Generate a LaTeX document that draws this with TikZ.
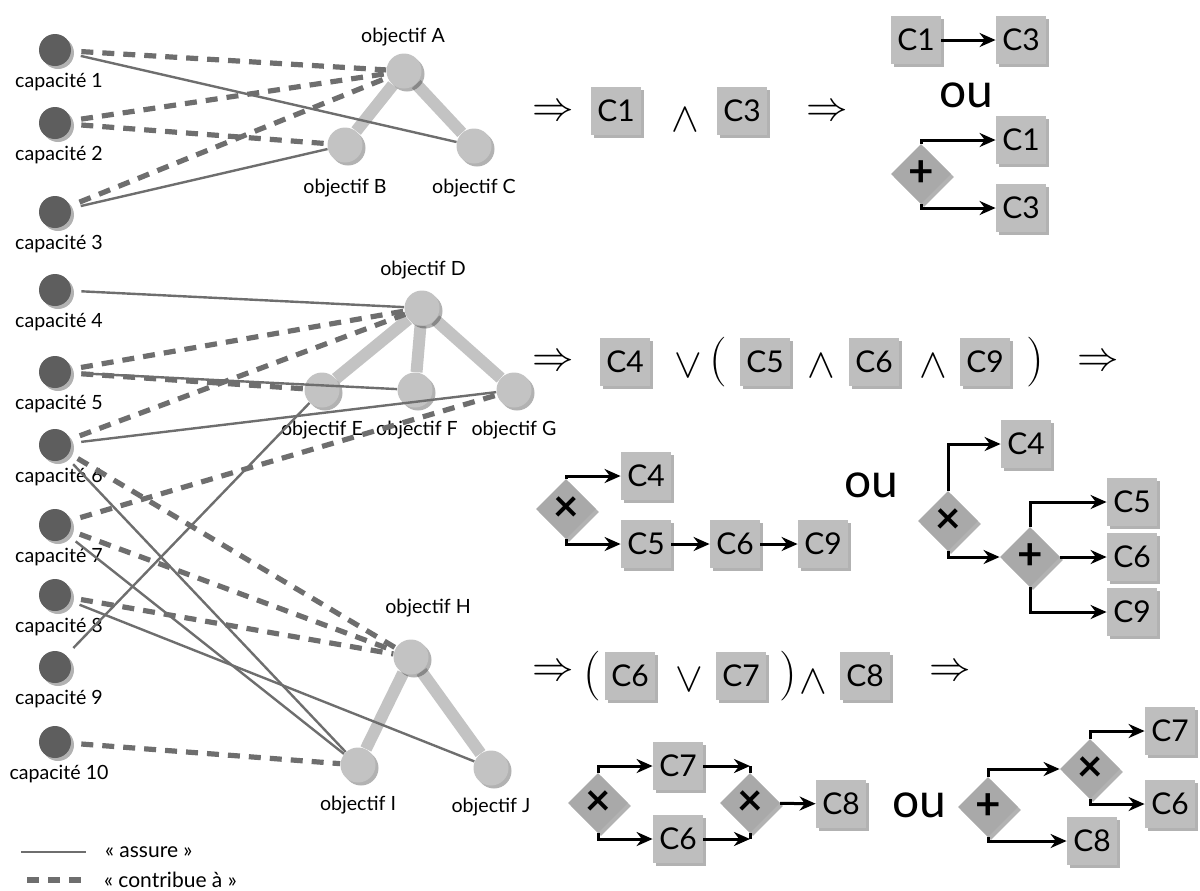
\documentclass[tikz,border=0pt]{standalone}
\usepackage{fontspec}
\setmainfont{Lato}
\usetikzlibrary{shapes.geometric,arrows.meta,shadows,backgrounds}
\definecolor{capgray}{HTML}{5E5E5E}
\definecolor{objgray}{HTML}{C3C3C3}
\definecolor{lnkgray}{HTML}{6E6E6E}
\definecolor{boxgray}{HTML}{BEBEBE}
\definecolor{gategray}{HTML}{A9A9A9}
\begin{document}
\begin{tikzpicture}[x=0.5pt, y=-0.5pt, >={Stealth[length=8pt,width=7pt]},
  shad/.style={drop shadow={shadow xshift=1.5pt, shadow yshift=-1.5pt, opacity=0.3, fill=black}},
  capa/.style={circle, fill=capgray, minimum size=16pt, inner sep=0pt, shad},
  obj/.style={circle, fill=objgray, minimum size=17.5pt, inner sep=0pt, shad},
  lab/.style={font=\fontsize{9.8}{11}\selectfont},
  tree/.style={objgray, line width=6pt},
  assure/.style={lnkgray, line width=1.2pt, shorten <=5pt},
  contrib/.style={lnkgray, line width=2.6pt, dash pattern=on 6pt off 4.5pt, shorten <=5pt},
  cbox/.style={fill=boxgray, minimum width=25pt, minimum height=24pt, inner sep=0pt, font=\fontsize{15}{16}\selectfont, shad},
  gate/.style={diamond, fill=gategray, minimum width=30pt, minimum height=30pt, inner sep=0pt, font=\fontsize{22}{22}\selectfont\bfseries, shad},
  sym/.style={font=\fontsize{21}{21}\selectfont},
  op/.style={font=\fontsize{20}{20}\selectfont},
  par/.style={font=\fontsize{26}{26}\selectfont},
  ou/.style={font=\fontsize{24}{24}\selectfont},
  flow/.style={->, line width=1.5pt}]
\useasboundingbox (0,0) rectangle (1200,890);
\foreach \i/\y in {1/50,2/123,3/212,4/290,5/372,6/445,7/525,8/595,9/667,10/742} {
  \node[capa] (c\i) at (55,\y) {};
  \node[lab] (lc\i) at (59,\y+32) {capacité \i};
}
\foreach \n/\x/\y/\lx/\ly in {A/404/71/403/37, B/345/145/345/188, C/474/146/474/188,
  D/422/308/423/270, E/322/390/322/430, F/415/390/417/430, G/514/390/514/430,
  H/411/657/428/608, I/358/765/358/805, J/491/768/491/807} {
  \node[obj] (o\n) at (\x,\y) {};
  \node[lab] (l\n) at (\lx,\ly) {objectif \n};
}
\begin{scope}[on background layer]
\foreach \a/\b in {A/B,A/C,D/E,D/F,D/G,H/I,H/J} \draw[tree] (o\a) -- (o\b);
\end{scope}
\foreach \c/\o in {1/C,3/B,4/D,5/F,6/G,6/I,7/I,8/J,9/E} \draw[assure] (c\c) -- (o\o);
\foreach \c/\o in {1/A,2/A,2/B,3/A,5/D,5/E,6/D,6/H,7/G,7/H,8/H,10/I} \draw[contrib] (c\c) -- (o\o);
\coordinate (ka) at (21,852); \coordinate (kb) at (86,852);
\coordinate (kc) at (27,880); \coordinate (kd) at (86,880);
\draw[assure, shorten <=0pt] (ka) -- (kb);
\draw[contrib, shorten <=0pt] (kc) -- (kd);
\node[lab, anchor=west, font=\fontsize{10.5}{12}\selectfont] (k1) at (98,852) {« assure »};
\node[lab, anchor=west, font=\fontsize{10.5}{12}\selectfont] (k2) at (97,880) {« contribue à »};
\node[sym] (r1i) at (553,113) {$\Rightarrow$};
\node[cbox] (r1c1) at (616,111) {C1};
\node[op] (r1et) at (685,120) {$\wedge$};
\node[cbox] (r1c3) at (742,111) {C3};
\node[sym] (r1ii) at (827,113) {$\Rightarrow$};
\node[cbox] (s1c1) at (916,40) {C1};
\node[cbox] (s1c3) at (1021,40) {C3};
\draw[flow] (s1c1) -- (s1c3);
\node[ou] (s1ou) at (966,95) {ou};
\node[gate] (s1g) at (921,174) {+};
\node[cbox] (s1d1) at (1021,140) {C1};
\node[cbox] (s1d3) at (1021,208) {C3};
\draw[flow] (s1g.north) |- (s1d1);
\draw[flow] (s1g.south) |- (s1d3);
\node[sym] (r2i) at (553,363) {$\Rightarrow$};
\node[cbox] (r2c4) at (625,362) {C4};
\node[op] (r2ou) at (688,366) {$\vee$};
\node[par] (r2po) at (718,362) {$($};
\node[cbox] (r2c5) at (765,362) {C5};
\node[op] (r2et) at (821,366) {$\wedge$};
\node[cbox] (r2c6) at (874,362) {C6};
\node[op] (r2etb) at (933,366) {$\wedge$};
\node[cbox] (r2c9) at (985,362) {C9};
\node[par] (r2pf) at (1035,362) {$)$};
\node[sym] (r2ii) at (1098,363) {$\Rightarrow$};
\node[gate] (s2g) at (566,509) {×};
\node[cbox] (s2c4) at (646,476) {C4};
\node[cbox] (s2c5) at (646,544) {C5};
\node[cbox] (s2c6) at (735,544) {C6};
\node[cbox] (s2c9) at (823,544) {C9};
\draw[flow] (s2g.north) |- (s2c4);
\draw[flow] (s2g.south) |- (s2c5);
\draw[flow] (s2c5) -- (s2c6);
\draw[flow] (s2c6) -- (s2c9);
\node[ou] (s2ou) at (871,485) {ou};
\node[gate] (t2g) at (948,521) {×};
\node[cbox] (t2c4) at (1026,444) {C4};
\node[gate] (t2p) at (1030,557) {+};
\node[cbox] (t2c5) at (1132,502) {C5};
\node[cbox] (t2c6) at (1132,557) {C6};
\node[cbox] (t2c9) at (1132,612) {C9};
\draw[flow] (t2g.north) |- (t2c4);
\draw[flow] (t2g.south) |- (t2p.west);
\draw[flow] (t2p.north) |- (t2c5);
\draw[flow] (t2p.east) -- (t2c6);
\draw[flow] (t2p.south) |- (t2c9);
\node[sym] (r3i) at (553,673) {$\Rightarrow$};
\node[par] (r3po) at (592,676) {$($};
\node[cbox] (r3c6) at (630,676) {C6};
\node[op] (r3ou) at (689,680) {$\vee$};
\node[cbox] (r3c7) at (741,676) {C7};
\node[par] (r3pf) at (788,676) {$)$};
\node[op] (r3et) at (813,682) {$\wedge$};
\node[cbox] (r3c8) at (865,676) {C8};
\node[sym] (r3ii) at (950,673) {$\Rightarrow$};
\node[gate] (s3g) at (598,803) {×};
\node[cbox] (s3c7) at (678,766) {C7};
\node[cbox] (s3c6) at (678,839) {C6};
\node[gate] (s3h) at (750,803) {×};
\node[cbox] (s3c8) at (841,804) {C8};
\draw[flow] (s3g.north) |- (s3c7);
\draw[flow] (s3g.south) |- (s3c6);
\draw[flow] (s3c7) -- (s3c7 -| s3h);
\draw[line width=1.5pt] (s3c7 -| s3h) -- (s3h.north);
\draw[flow] (s3c6) -- (s3c6 -| s3h);
\draw[line width=1.5pt] (s3c6 -| s3h) -- (s3h.south);
\draw[flow] (s3h) -- (s3c8);
\node[ou] (s3ou) at (919,805) {ou};
\node[gate] (t3p) at (988,807) {+};
\node[gate] (t3g) at (1090,769) {×};
\node[cbox] (t3c7) at (1170,731) {C7};
\node[cbox] (t3c6) at (1170,804) {C6};
\node[cbox] (t3c8) at (1092,841) {C8};
\draw[flow] (t3p.north) |- (t3g.west);
\draw[flow] (t3p.south) |- (t3c8);
\draw[flow] (t3g.north) |- (t3c7);
\draw[flow] (t3g.south) |- (t3c6);
\end{tikzpicture}
\end{document}
